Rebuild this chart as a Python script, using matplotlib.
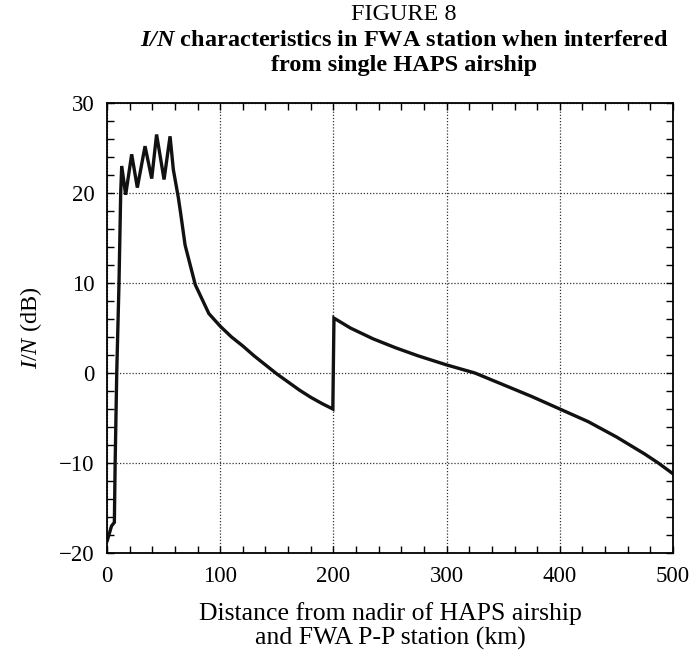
import matplotlib
matplotlib.use("Agg")
import matplotlib.pyplot as plt
from matplotlib.ticker import MultipleLocator

plt.rcParams['font.family'] = ['Liberation Serif', 'DejaVu Serif']
plt.rcParams['mathtext.fontset'] = 'custom'
plt.rcParams['mathtext.rm'] = 'Liberation Serif'
plt.rcParams['mathtext.it'] = 'Liberation Serif:italic'
plt.rcParams['mathtext.bf'] = 'Liberation Serif:bold'
plt.rcParams['mathtext.bfit'] = 'Liberation Serif:italic:bold'

# ---- data ----
distance_km = [0.3, 4, 6.5, 7.2, 8.6, 10.6, 12.1, 13.0, 16.5, 21.8, 26.8, 33.6, 39.5,
               43.8, 50.4, 55.7, 58.6, 63, 65, 69, 78, 90, 100, 110, 120, 130, 140,
               150, 160, 170, 180, 190, 199.5, 200.5, 215, 235, 255, 275, 300, 325,
               350, 375, 400, 425, 450, 475, 487, 500]
i_over_n_db = [-18.6, -17.0, -16.6, -10, 0, 10, 20, 23.0, 19.8, 24.3, 20.6, 25.2, 21.6,
               26.5, 21.5, 26.3, 22.6, 19.5, 17.8, 14.2, 9.8, 6.6, 5.2, 4.0, 3.0, 1.9, 0.9,
               -0.1, -1.0, -1.9, -2.7, -3.4, -4.0, 6.1, 5.0, 3.8, 2.8, 1.9, 0.9, 0.0,
               -1.3, -2.6, -4.0, -5.4, -7.1, -9.0, -10.0, -11.2]

x_ticks = [0, 100, 200, 300, 400, 500]
y_ticks = [-20, -10, 0, 10, 20, 30]

fig = plt.figure(figsize=(6.91, 6.53), dpi=100)
ax = fig.add_axes([107/691, 1-553/653, (673-107)/691, (553-103)/653])

ax.plot(distance_km, i_over_n_db, color='#111111', linewidth=2.4, solid_joinstyle='miter')

ax.set_xlim(0, 500)
ax.set_ylim(-20, 30)
ax.set_xticks(x_ticks)
ax.set_yticks(y_ticks)
ax.xaxis.set_minor_locator(MultipleLocator(20))
ax.yaxis.set_minor_locator(MultipleLocator(2))
ax.tick_params(which='both', direction='in', top=True, right=True, length=5, width=1,
               labelsize=16.5, pad=9)
ax.grid(True, which='major', linestyle=(0, (1, 1.5)), color='#333333', linewidth=0.9)
for s in ax.spines.values():
    s.set_linewidth(1.3)

ax.set_xlabel('Distance from nadir of HAPS airship\nand FWA P-P station (km)',
              fontsize=18.5, labelpad=11, linespacing=1.12)
ax.set_ylabel(r'$I/N$ (dB)', fontsize=17.5, labelpad=11)

fig.text(404/691, 1-14/653, 'FIGURE 8', ha='center', va='center', fontsize=17.5)
fig.text(404/691, 1-40/653, r'$\mathbfit{I/N}$ characteristics in FWA station when interfered',
         ha='center', va='center', fontsize=17.5, fontweight='bold')
fig.text(404/691, 1-65/653, 'from single HAPS airship', ha='center', va='center',
         fontsize=17.5, fontweight='bold')

fig.savefig('out.png', dpi=100)
